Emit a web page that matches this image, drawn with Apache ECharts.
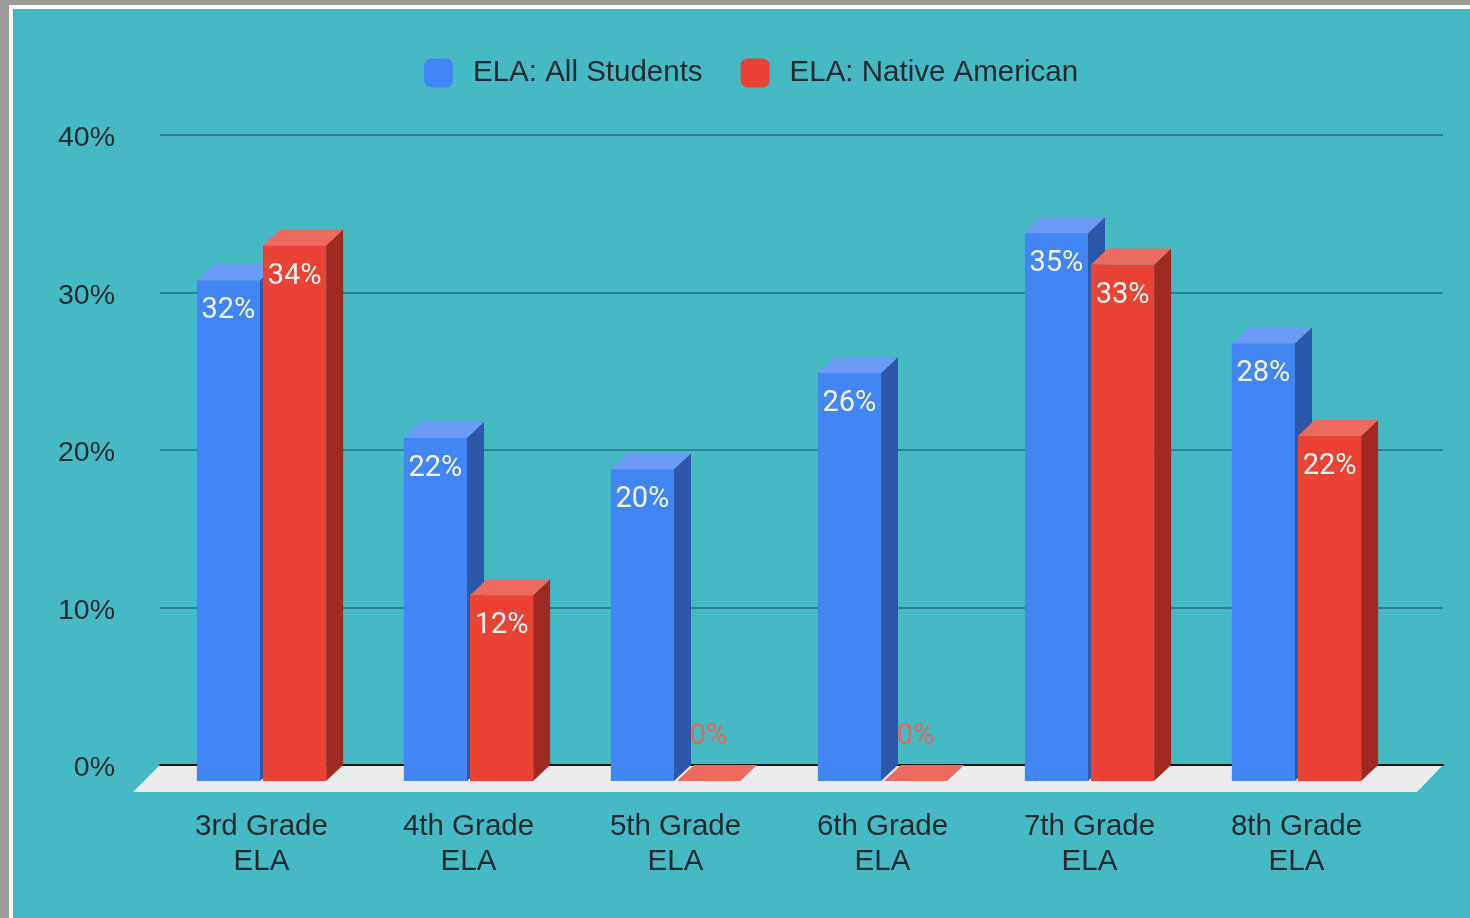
<!DOCTYPE html>
<html><head><meta charset="utf-8">
<script src="https://cdn.jsdelivr.net/npm/echarts@6/dist/echarts.min.js"></script>
<style>
html,body{margin:0;padding:0;width:1470px;height:918px;overflow:hidden;background:#9b9b9b;}
#frame{position:absolute;left:9px;top:5px;width:1461px;height:913px;border-left:4px solid #fff;border-top:4px solid #fff;background:#45bac5;box-sizing:border-box;}
#chart{position:absolute;left:0;top:0;width:1470px;height:918px;}
</style></head>
<body><div id="frame"></div><div id="chart"></div>
<script>
const categories = ['3rd Grade\nELA','4th Grade\nELA','5th Grade\nELA','6th Grade\nELA','7th Grade\nELA','8th Grade\nELA'];
const seriesNames = ['ELA: All Students','ELA: Native American'];
const allStudents = [31.8,21.8,19.8,25.9,34.8,27.8];
const nativeAmerican = [34.0,11.8,0,0,32.8,21.9];
const yTicks = [0,10,20,30,40];

const palette = [
  {front:'#4285f4', top:'#6a9cf7', side:'#2c58aa'},
  {front:'#ea4335', top:'#ee6a5e', side:'#a2291f'}
];
const DX = 17, DY = 16;
const AXIS_FONT = 'Liberation Sans';

function makeRender(si){
  return function(params, api){
    const idx = api.value(0), val = api.value(1);
    const band = api.size([1,0])[0];
    const c = api.coord([idx,val]);
    const b = api.coord([idx,0]);
    const w = band*0.305, gap = band*0.0145;
    const x0 = si===0 ? c[0]-gap/2-w : c[0]+gap/2;
    const x1 = x0+w;
    const top = c[1], bot = b[1];
    const col = palette[si];
    const children = [];
    if (bot-top > 0.5) {
      children.push({type:'polygon', shape:{points:[[x1,top],[x1+DX,top-DY],[x1+DX,bot-DY],[x1,bot]]}, style:{fill:col.side}});
      children.push({type:'rect', shape:{x:x0,y:top,width:w,height:bot-top}, style:{fill:col.front}});
    }
    children.push({type:'polygon', shape:{points:[[x0,top],[x0+DX,top-DY],[x1+DX,top-DY],[x1,top]]}, style:{fill:col.top}});
    const label = Math.round(val) + '%';
    if (bot-top > 40) {
      children.push({type:'text', style:{text:label, x:(x0+x1)/2, y:top+31, align:'center', verticalAlign:'middle', fill:'#f4f4f4', font:'29px Roboto'}});
    } else {
      children.push({type:'text', style:{text:label, x:(x0+x1)/2, y:top-44, align:'center', verticalAlign:'middle', fill:'#e8675a', font:'29px Roboto'}});
    }
    return {type:'group', children};
  };
}

const chart = echarts.init(document.getElementById('chart'), null, {renderer:'canvas'});
chart.setOption({
  backgroundColor:'transparent',
  animation:false,
  textStyle:{fontFamily:AXIS_FONT},
  legend:{
    left:419, top:53, itemWidth:29, itemHeight:29, itemGap:38,
    icon:'roundRect',
    textStyle:{fontSize:29.5, fontFamily:AXIS_FONT, color:'#1f2a2e', padding:[0,0,0,15]},
    data:seriesNames
  },
  grid:[
    {left:160, right:27, top:135, bottom:153},
    {left:158, right:70, top:151, bottom:137}
  ],
  graphic:[{
    type:'polygon', z:1,
    shape:{points:[[160,765],[1443,765],[1417,792],[133,792]]},
    style:{fill:'#ececec'}
  }],
  xAxis:[
    {type:'value', gridIndex:0, min:0, max:1, z:5,
     axisLine:{show:true, onZero:false, lineStyle:{color:'#111', width:2}},
     axisTick:{show:false}, axisLabel:{show:false}, splitLine:{show:false}},
    {type:'category', gridIndex:1, data:categories,
     axisLine:{show:false}, axisTick:{show:false},
     axisLabel:{interval:0, fontSize:29.5, fontFamily:AXIS_FONT, color:'#1f2a2e', lineHeight:35, margin:28}}
  ],
  yAxis:[
    {type:'value', gridIndex:0, min:0, max:40, interval:10,
     axisLine:{show:false}, axisTick:{show:false},
     axisLabel:{formatter:'{a|{value}%}', margin:45,
       rich:{a:{fontSize:28.5, fontFamily:AXIS_FONT, color:'#1f2a2e', padding:[7,0,0,0]}}},
     splitLine:{show:true, lineStyle:{color:'#2c8491', width:2}}},
    {type:'value', gridIndex:1, min:0, max:40, interval:10, show:false}
  ],
  series:[
    {name:seriesNames[0], type:'custom', xAxisIndex:1, yAxisIndex:1, z:10,
     color:palette[0].front, itemStyle:{color:palette[0].front},
     renderItem:makeRender(0), data:allStudents.map((v,i)=>[i,v])},
    {name:seriesNames[1], type:'custom', xAxisIndex:1, yAxisIndex:1, z:11,
     color:palette[1].front, itemStyle:{color:palette[1].front},
     renderItem:makeRender(1), data:nativeAmerican.map((v,i)=>[i,v])}
  ]
});
</script></body></html>
